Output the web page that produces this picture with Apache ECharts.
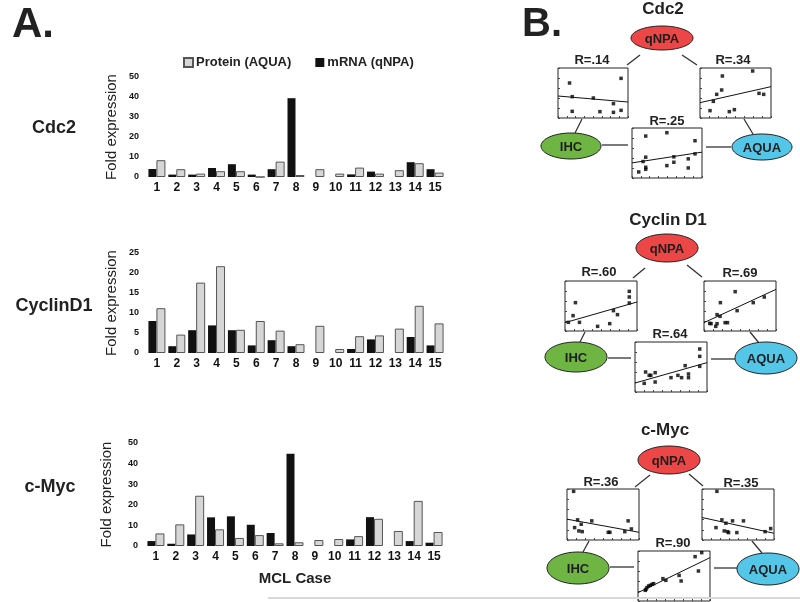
<!DOCTYPE html>
<html>
<head>
<meta charset="utf-8">
<script src="https://cdn.jsdelivr.net/npm/echarts@6/dist/echarts.min.js"></script>
<style>
  html, body { margin: 0; padding: 0; background: #fff; }
  #chart { width: 800px; height: 602px; }
</style>
</head>
<body>
<div id="chart"></div>
<script>
// Panel A: fold expression per MCL case (black = mRNA by qNPA, grey = protein by AQUA).
// Panel B: pairwise correlation scatters between qNPA, IHC and AQUA for each marker.
const cases = ['1', '2', '3', '4', '5', '6', '7', '8', '9', '10', '11', '12', '13', '14', '15'];

const cdc2Mrna    = [4, 1.2, 1.2, 4.5, 6.4, 1.2, 3.9, 39.4, 0, 0, 1.3, 2.7, 0, 7.4, 3.9];
const cdc2Protein = [8.4, 3.9, 1.7, 2.9, 2.9, 0, 7.7, 1.0, 3.9, 1.7, 4.7, 1.7, 3.4, 6.9, 2.2];
const cycMrna     = [8.0, 1.7, 5.7, 6.9, 5.7, 1.9, 3.2, 1.7, 0, 0, 1.0, 3.4, 0, 4.0, 1.9];
const cycProtein  = [11.2, 4.6, 17.6, 21.7, 5.8, 8.0, 5.6, 2.2, 6.8, 1.0, 4.2, 4.4, 6.1, 11.8, 7.4];
const mycMrna     = [2.4, 1.1, 5.6, 13.9, 14.4, 10.3, 6.3, 44.8, 0, 0, 3.2, 14.0, 0, 2.4, 1.6];
const mycProtein  = [6.1, 10.5, 24.4, 8.1, 3.9, 5.3, 1.3, 1.8, 2.9, 3.4, 4.8, 13.2, 7.3, 21.9, 6.8];

const barYMax = [50, 25, 50];
const barYStep = [10, 5, 10];
const rowLabels = ['Cdc2', 'CyclinD1', 'c-Myc'];

// scatter points in relative units (0-100 on both axes) and fitted line ends [y at x=0, y at x=100]
const cdc2QnpaIhc  = [[16.5,70],[20.3,42.7],[50.5,40],[90.1,79.3],[79.2,28.7],[20.3,13.3],[59.9,12.7],[79.2,11.3],[90.1,15.3]];
const cdc2QnpaAqua = [[31.5,84],[74.2,94],[30.5,56],[23.5,47.3],[18.8,33.3],[83.1,49.3],[89.7,47.3],[14.1,14.7],[41.3,12.7],[48.4,16.7]];
const cdc2IhcAqua  = [[19.6,83.9],[49.8,90.6],[90,74.5],[19.6,41.6],[15.8,32.9],[59.8,42.3],[80.4,38.3],[90,48.3],[49.8,24.8],[59.8,31.5],[19.6,21.5],[19.6,17.4],[9.6,12.1],[80.4,20.1]];
const cycQnpaIhc   = [[89.3,79.3],[89.3,68],[89.3,56],[14.5,56.7],[67.3,40.7],[72.9,32.7],[11.2,30.7],[4.7,17.3],[20.1,17.3],[45.3,9.3],[62.1,14.7]];
const cycQnpaAqua  = [[43.3,78.7],[22.8,56.7],[68.4,56.7],[83.7,68],[46,40.7],[18.1,32.7],[22.3,29.3],[9.8,14.7],[16.3,9.3],[18.1,14.7],[29.3,16.7],[32.6,16.7],[7.9,15.3]];
const cycIhcAqua   = [[89.9,86],[89.9,71.3],[89.9,51.3],[69.7,52.7],[74.3,36],[74.3,28.7],[64.7,28.7],[59.6,33.3],[50,28.7],[28,38.7],[22,33.3],[19.7,33.3],[14.7,40],[12.8,17.3],[28,20]];
const mycQnpaIhc   = [[9.2,95.4],[14.7,39.5],[10.6,24.3],[19.7,30.9],[16.5,17.8],[21.1,16.4],[34.4,37.5],[57.3,15.1],[59.6,15.1],[84.9,37.5],[89.4,21.7],[80.3,16.4]];
const mycQnpaAqua  = [[20.7,95.4],[27.6,39.5],[33.2,32.9],[19.4,24.3],[30.9,17.8],[35.5,16.4],[42.4,37.5],[48.4,14.5],[57.6,37.5],[87.6,16.4],[95.4,22.4],[36.9,14.5]];
const mycIhcAqua   = [[79.3,88.7],[88.5,96.7],[83.9,60],[57.1,51.3],[59.9,40],[38.7,41.3],[34.6,44.7],[21.7,34.7],[19.4,33.3],[17.1,31.3],[14.7,30],[12.4,26.7],[11.1,23.3],[10.1,21.3]];

const scatterSets = [cdc2QnpaIhc, cdc2QnpaAqua, cdc2IhcAqua, cycQnpaIhc, cycQnpaAqua, cycIhcAqua, mycQnpaIhc, mycQnpaAqua, mycIhcAqua];
const fitEnds = [[44,32],[30.7,62.7],[30.2,51.7],[16.7,58],[16.7,83.3],[18,58.7],[40.8,15.1],[44.1,13.2],[16.7,86.7]];
const rLabels = ['R=.14', 'R=.34', 'R=.25', 'R=.60', 'R=.69', 'R=.64', 'R=.36', 'R=.35', 'R=.90'];
const markerTitles = ['Cdc2', 'Cyclin D1', 'c-Myc'];

const FONT = '"Liberation Sans", Arial, sans-serif';
const chart = echarts.init(document.getElementById('chart'), null, { renderer: 'canvas' });

// ---- layout ----
const barGrids = [
  { left: 147, top: 77, width: 298, height: 100 },
  { left: 147, top: 253, width: 298, height: 100 },
  { left: 146, top: 443, width: 298, height: 103 },
];
const rowLabelPos = [[54, 128], [54, 306], [50, 487]];

// scatter boxes: [left, right, bottom] per marker
const scatterBoxes = [
  { left: 558, top: 68, width: 70, height: 50 }, { left: 700, top: 68, width: 71, height: 50 }, { left: 632, top: 128, width: 70, height: 50 },
  { left: 565, top: 281, width: 72, height: 50 }, { left: 704, top: 281, width: 72, height: 50 }, { left: 635, top: 342, width: 72, height: 50 },
  { left: 567, top: 489, width: 72, height: 51 }, { left: 702, top: 489, width: 72, height: 51 }, { left: 638, top: 551, width: 72, height: 50 },
];

// diagram furniture per marker
const diagrams = [
  { title: [663, 7], q: [662, 38, 31, 12], ihc: [571, 146, 30, 13], aqua: [762, 147, 30, 13],
    r: [[592, 60], [733, 60], [667, 121]],
    links: [[627,65,640,55],[682,55,697,65],[582,119,575,133],[744,119,753,134],[602,145,628,145],[706,147,731,147]] },
  { title: [668, 218], q: [667, 248, 31, 14], ihc: [576, 357, 31, 15], aqua: [766, 358, 31, 16],
    r: [[599, 272], [740, 273], [670, 334]],
    links: [[633,278,645,268],[687,265,702,277],[585,332,580,342],[750,332,759,343],[608,358,631,358],[711,359,735,359]] },
  { title: [665, 428], q: [669, 460, 31, 14], ihc: [578, 568, 31, 16], aqua: [768, 569, 31, 16],
    r: [[601, 482], [741, 483], [673, 543]],
    links: [[635,487,650,475],[689,474,703,486],[589,541,583,552],[752,541,762,553],[610,567,634,567],[714,568,737,568]] },
];

const grids = [], xAxes = [], yAxes = [], series = [];
const barData = [[cdc2Mrna, cdc2Protein], [cycMrna, cycProtein], [mycMrna, mycProtein]];

barGrids.forEach((g, i) => {
  grids.push(g);
  xAxes.push({
    type: 'category', gridIndex: i, data: cases,
    axisLine: { show: false }, axisTick: { show: false },
    axisLabel: { color: '#111', fontFamily: FONT, fontWeight: 'bold', fontSize: 12, margin: 5 },
    name: i === 2 ? 'MCL Case' : '', nameLocation: 'middle', nameGap: 25,
    nameTextStyle: { color: '#222', fontFamily: FONT, fontWeight: 'bold', fontSize: 15 },
  });
  yAxes.push({
    type: 'value', gridIndex: i, min: 0, max: barYMax[i], interval: barYStep[i],
    axisLine: { show: false }, axisTick: { show: false }, splitLine: { show: false },
    axisLabel: { color: '#111', fontFamily: FONT, fontWeight: 'bold', fontSize: 9, margin: 8 },
    name: 'Fold expression', nameLocation: 'middle', nameRotate: 90, nameGap: i === 2 ? 32 : 28,
    nameTextStyle: { color: '#222', fontFamily: FONT, fontSize: 15 },
  });
  series.push({
    name: 'mRNA (qNPA)', type: 'bar', xAxisIndex: i, yAxisIndex: i, data: barData[i][0],
    barWidth: 8, barGap: '0%', itemStyle: { color: '#111' }, silent: true,
  });
  series.push({
    name: 'Protein (AQUA)', type: 'bar', xAxisIndex: i, yAxisIndex: i, data: barData[i][1],
    barWidth: 9, itemStyle: { color: '#d6d6d6', borderColor: '#555', borderWidth: 1 }, silent: true,
  });
});

scatterBoxes.forEach((b, j) => {
  const gi = barGrids.length + j;
  grids.push({ ...b, show: true, borderColor: '#222', borderWidth: 1 });
  const tinyAxis = {
    gridIndex: gi, type: 'value', min: 0, max: 100, interval: 12.5,
    axisLine: { show: false }, splitLine: { show: false }, axisLabel: { show: false },
    axisTick: { show: true, inside: true, length: 2, lineStyle: { color: '#444' } },
  };
  xAxes.push({ ...tinyAxis });
  yAxes.push({ ...tinyAxis, interval: 20 });
  series.push({
    type: 'scatter', xAxisIndex: gi, yAxisIndex: gi, data: scatterSets[j],
    symbol: 'rect', symbolSize: 3.5, itemStyle: { color: '#000' }, silent: true,
  });
  series.push({
    type: 'line', xAxisIndex: gi, yAxisIndex: gi, showSymbol: false, silent: true,
    data: [[0, fitEnds[j][0]], [100, fitEnds[j][1]]],
    lineStyle: { color: '#111', width: 1 },
  });
});

// ---- graphics: panel letters, row labels, bubbles, links ----
const graphic = [];
const text = (x, y, str, size, extra = {}) => graphic.push({
  type: 'text', x, y,
  style: { text: str, fill: '#222', font: `bold ${size}px ${FONT}`, align: 'center', verticalAlign: 'middle', ...extra },
  silent: true,
});

text(33, 25, 'A.', 42);
text(542, 25, 'B.', 40);
rowLabels.forEach((t, i) => text(rowLabelPos[i][0], rowLabelPos[i][1], t, 18));

const bubble = ([cx, cy, rx, ry], fill, label) => {
  graphic.push({ type: 'ellipse', shape: { cx, cy, rx, ry }, style: { fill, stroke: '#222', lineWidth: 1 }, silent: true });
  text(cx, cy + 1, label, 13, { fill: '#1e1e1e' });
};

diagrams.forEach((d, k) => {
  d.links.forEach(([x1, y1, x2, y2]) => graphic.push({
    type: 'line', shape: { x1, y1, x2, y2 }, style: { stroke: '#333', lineWidth: 1.3 }, silent: true,
  }));
  bubble(d.q, '#ec4646', 'qNPA');
  bubble(d.ihc, '#6fb543', 'IHC');
  bubble(d.aqua, '#54c6e8', 'AQUA');
  text(d.title[0], d.title[1] + 2, markerTitles[k], 17);
  d.r.forEach(([x, y], m) => text(x, y, rLabels[k * 3 + m], 13));
});

graphic.push({ type: 'line', shape: { x1: 268, y1: 598, x2: 800, y2: 598 }, style: { stroke: '#d8d8d8', lineWidth: 2 }, silent: true });

chart.setOption({
  animation: false,
  backgroundColor: '#fff',
  legend: {
    data: ['Protein (AQUA)', 'mRNA (qNPA)'],
    left: 178, top: 51, itemWidth: 9, itemHeight: 9, itemGap: 24, icon: 'rect',
    textStyle: { color: '#222', fontFamily: FONT, fontWeight: 'bold', fontSize: 13, padding: [0, 0, 0, -2] },
    selectedMode: false,
  },
  grid: grids,
  xAxis: xAxes,
  yAxis: yAxes,
  series,
  graphic,
});
</script>
</body>
</html>
